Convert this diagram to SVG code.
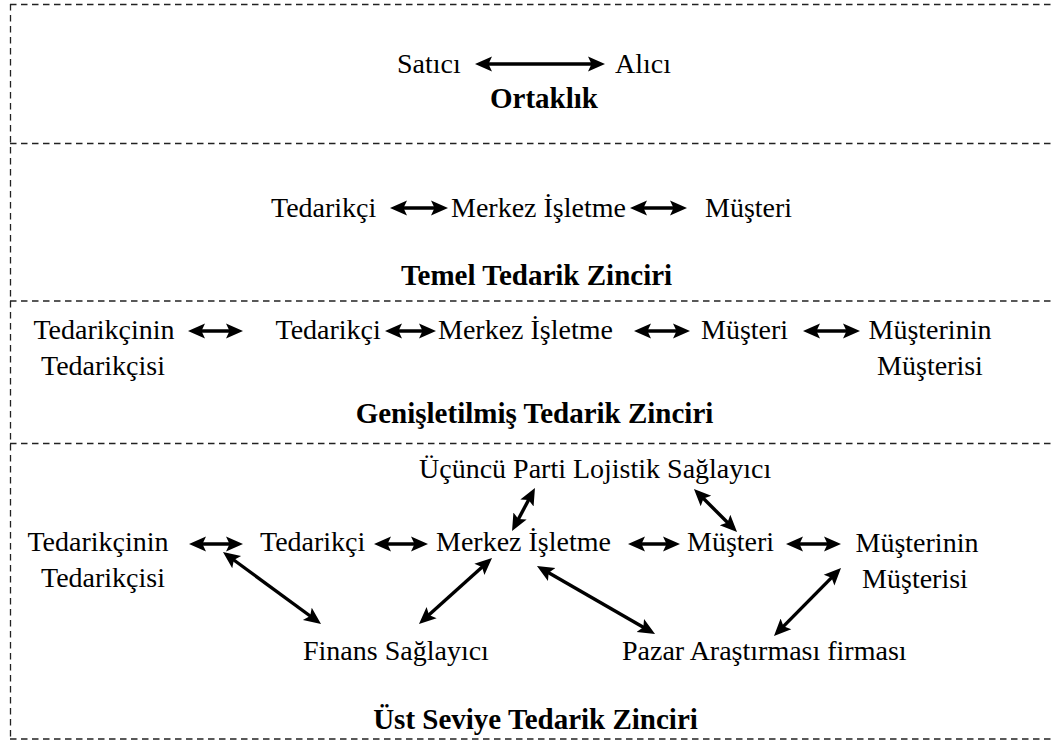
<svg xmlns="http://www.w3.org/2000/svg" width="1055" height="744" viewBox="0 0 1055 744">
<style>
text{font-family:'Liberation Serif','Times New Roman',serif;font-size:28px;fill:#000}
.b{font-size:29px;font-weight:bold}
.m{text-anchor:middle}
.d{stroke:#222;stroke-width:1.3;stroke-dasharray:6.5 4.5;fill:none}
.a{stroke:#000;stroke-width:3.4;fill:none;marker-start:url(#ah);marker-end:url(#ah)}
</style>
<defs>
<marker id="ah" markerUnits="userSpaceOnUse" markerWidth="18" markerHeight="18" viewBox="0 0 18 18" refX="12" refY="9" orient="auto-start-reverse">
<path d="M0,1.5 L17,9 L0,16.5 L3.5,9 z" fill="#000"/>
</marker>
</defs>
<rect width="1055" height="744" fill="#fff"/>
<g id="frame">
<line class="d" x1="10" y1="4.5" x2="1055" y2="4.5"/>
<line class="d" x1="10" y1="143.5" x2="1055" y2="143.5"/>
<line class="d" x1="10" y1="301" x2="1055" y2="301"/>
<line class="d" x1="10" y1="443.5" x2="1055" y2="443.5"/>
<line class="d" x1="10" y1="739" x2="1055" y2="739"/>
<line class="d" x1="10.5" y1="4" x2="10.5" y2="739"/>
</g>
<g id="connectors">
<line class="a" x1="480" y1="64" x2="600" y2="64"/>
<line class="a" x1="395" y1="208" x2="443" y2="208"/>
<line class="a" x1="635" y1="208" x2="682" y2="208"/>
<line class="a" x1="193" y1="331" x2="238" y2="331"/>
<line class="a" x1="390" y1="331" x2="431" y2="331"/>
<line class="a" x1="639" y1="331" x2="685" y2="331"/>
<line class="a" x1="808" y1="331" x2="855" y2="331"/>
<line class="a" x1="194" y1="544" x2="238" y2="544"/>
<line class="a" x1="379" y1="544" x2="423" y2="544"/>
<line class="a" x1="633" y1="544" x2="675" y2="544"/>
<line class="a" x1="791" y1="544" x2="836" y2="544"/>
<line class="a" x1="227" y1="555" x2="317" y2="621"/>
<line class="a" x1="488.3" y1="561.4" x2="422.7" y2="620.6"/>
<line class="a" x1="532.6" y1="492.4" x2="514.4" y2="526.6"/>
<line class="a" x1="697.5" y1="492.5" x2="733.5" y2="528.5"/>
<line class="a" x1="541.3" y1="568.5" x2="650.7" y2="631.5"/>
<line class="a" x1="837.5" y1="571.6" x2="777.5" y2="632.4"/>
</g>
<g id="ortaklik">
<text x="397" y="73">Satıcı</text>
<text x="615" y="73">Alıcı</text>
<text class="b m" x="544" y="108">Ortaklık</text>
</g>
<g id="temel">
<text x="271" y="217">Tedarikçi</text>
<text x="451" y="217">Merkez İşletme</text>
<text x="705" y="217">Müşteri</text>
<text class="b m" x="536.5" y="285">Temel Tedarik Zinciri</text>
</g>
<g id="genisletilmis">
<text class="m" x="104" y="339">Tedarikçinin</text>
<text class="m" x="103" y="375">Tedarikçisi</text>
<text x="275.5" y="339">Tedarikçi</text>
<text x="438" y="339">Merkez İşletme</text>
<text x="701" y="339">Müşteri</text>
<text class="m" x="930" y="339">Müşterinin</text>
<text class="m" x="930" y="375">Müşterisi</text>
<text class="b m" x="534.5" y="423">Genişletilmiş Tedarik Zinciri</text>
</g>
<g id="ust">
<text x="419" y="478">Üçüncü Parti Lojistik Sağlayıcı</text>
<text class="m" x="98" y="551">Tedarikçinin</text>
<text class="m" x="103" y="587">Tedarikçisi</text>
<text x="260" y="551">Tedarikçi</text>
<text x="436" y="551">Merkez İşletme</text>
<text x="687" y="551">Müşteri</text>
<text class="m" x="917" y="552">Müşterinin</text>
<text class="m" x="915" y="588">Müşterisi</text>
<text x="303" y="660">Finans Sağlayıcı</text>
<text x="622" y="660">Pazar Araştırması firması</text>
<text class="b m" x="535.5" y="729">Üst Seviye Tedarik Zinciri</text>
</g>
</svg>
